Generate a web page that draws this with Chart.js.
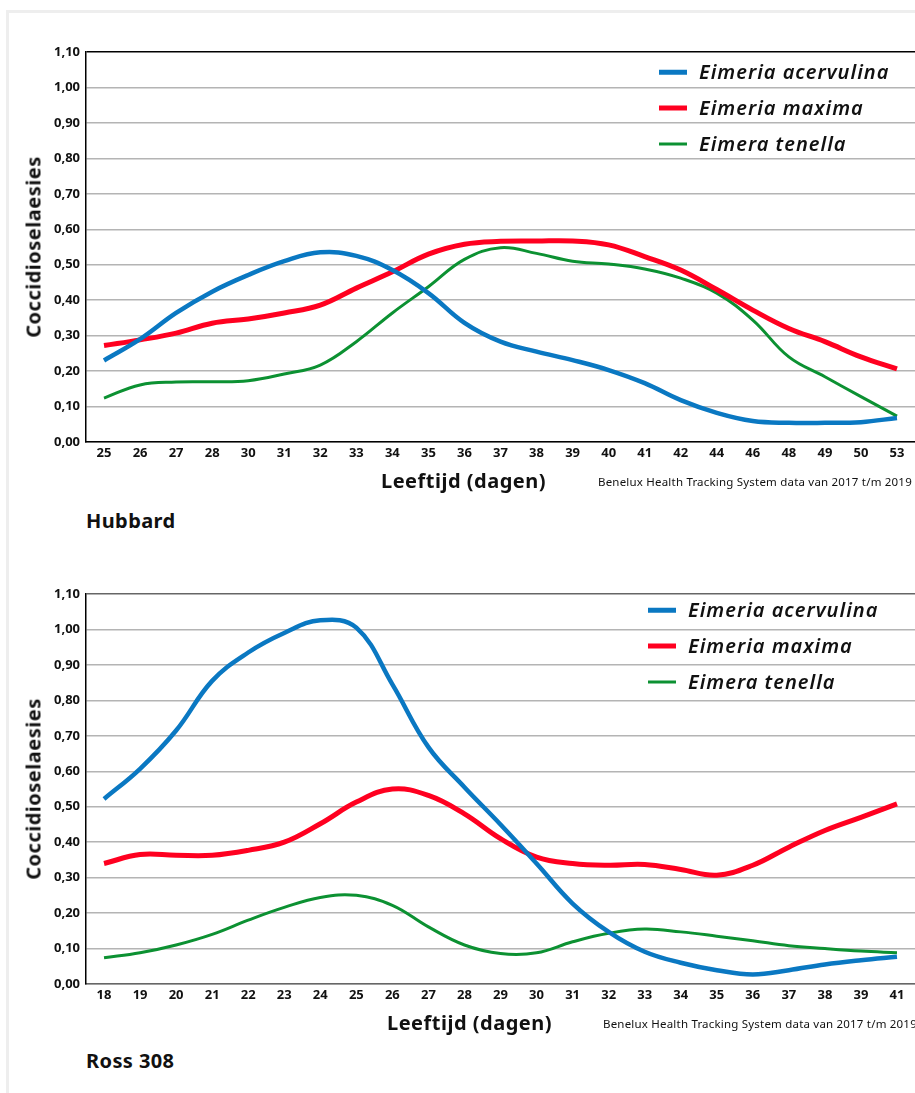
<!DOCTYPE html>
<html lang="nl">
<head>
  <meta charset="UTF-8" />
  <title>Coccidioselaesies Hubbard en Ross 308</title>
  <script src="https://cdn.jsdelivr.net/npm/chart.js"></script>
  <style>
    body {
      margin: 0;
      background: #fff;
      font-family: 'Noto Sans', 'Open Sans', sans-serif;
      color: #111;
    }
    .page {
      position: relative;
      width: 915px;
      height: 1093px;
      overflow: hidden;
    }
    .frame {
      position: absolute;
      left: 6px;
      top: 10px;
      right: -10px;
      bottom: -10px;
      border-left: 3px solid #eeeeee;
      border-top: 3px solid #eeeeee;
    }
    canvas { position: absolute; left: 0; }
    .ytitle {
      position: absolute;
      font-weight: 700;
      font-size: 20px;
      letter-spacing: 0.5px;
      transform: translate(-50%, -50%) rotate(-90deg);
      white-space: nowrap;
    }
    .xtitle {
      position: absolute;
      font-weight: 700;
      font-size: 20px;
      letter-spacing: 0.5px;
      white-space: nowrap;
      transform: translateY(-50%);
    }
    .source {
      position: absolute;
      font-size: 11.5px;
      letter-spacing: 0.2px;
      white-space: nowrap;
      transform: translateY(-50%);
    }
    .breed {
      position: absolute;
      left: 86px;
      font-weight: 700;
      font-size: 20px;
      letter-spacing: 0.4px;
      transform: translateY(-50%);
    }
    .legend {
      position: absolute;
    }
    .legend div {
      position: relative;
      height: 36px;
      line-height: 36px;
      font-style: italic;
      font-weight: 600;
      font-size: 20px;
      letter-spacing: 1px;
      white-space: nowrap;
      padding-left: 40px;
    }
    .legend span {
      position: absolute;
      left: 0;
      top: 50%;
      width: 28px;
      transform: translateY(-50%);
    }
  </style>
</head>
<body>
<div class="page">
  <div class="frame"></div>

  <canvas id="hubbardChart" width="915" height="470" style="top:30px"></canvas>
  <div class="ytitle" style="left:33px; top:247px">Coccidioselaesies</div>
  <div class="xtitle" style="left:381px; top:480px">Leeftijd (dagen)</div>
  <div class="source" style="left:598px; top:481px">Benelux Health Tracking System data van 2017 t/m 2019</div>
  <div class="breed" style="top:520px">Hubbard</div>
  <div class="legend" id="hubbardLegend" style="left:659px; top:54px"></div>

  <canvas id="rossChart" width="915" height="470" style="top:572px"></canvas>
  <div class="ytitle" style="left:33px; top:789px">Coccidioselaesies</div>
  <div class="xtitle" style="left:387px; top:1022px">Leeftijd (dagen)</div>
  <div class="source" style="left:603px; top:1023px">Benelux Health Tracking System data van 2017 t/m 2019</div>
  <div class="breed" style="top:1060px">Ross 308</div>
  <div class="legend" id="rossLegend" style="left:648px; top:592px"></div>
</div>

<script>
  const seriesNames = ['Eimeria acervulina', 'Eimeria maxima', 'Eimera tenella'];
  const seriesColors = ['#0a78c2', '#ff0020', '#0c9132'];
  const seriesWidths = [4.5, 5, 3];

  // Hubbard
  const hubbardDays = ['25','26','27','28','30','31','32','33','34','35','36','37','38','39','40','41','42','44','46','48','49','50','53'];
  const hubbardAcervulina = [0.23,0.29,0.364,0.424,0.471,0.51,0.535,0.525,0.485,0.42,0.336,0.283,0.255,0.231,0.203,0.166,0.118,0.082,0.059,0.054,0.054,0.056,0.068];
  const hubbardMaxima = [0.272,0.288,0.307,0.335,0.347,0.364,0.386,0.434,0.48,0.53,0.558,0.566,0.567,0.567,0.556,0.523,0.485,0.43,0.372,0.32,0.283,0.24,0.206];
  const hubbardTenella = [0.124,0.161,0.169,0.17,0.173,0.192,0.217,0.283,0.364,0.438,0.515,0.548,0.532,0.51,0.502,0.488,0.462,0.42,0.344,0.24,0.184,0.128,0.073];

  // Ross 308
  const rossDays = ['18','19','20','21','22','23','24','25','26','27','28','29','30','31','32','33','34','35','36','37','38','39','41'];
  const rossAcervulina = [0.522,0.607,0.715,0.855,0.935,0.99,1.026,1.005,0.845,0.668,0.555,0.45,0.34,0.227,0.147,0.091,0.06,0.039,0.027,0.039,0.055,0.067,0.077];
  const rossMaxima = [0.34,0.365,0.363,0.363,0.377,0.40,0.452,0.513,0.55,0.532,0.48,0.41,0.358,0.34,0.335,0.337,0.323,0.307,0.335,0.386,0.433,0.47,0.508];
  const rossTenella = [0.074,0.088,0.11,0.14,0.18,0.216,0.244,0.25,0.222,0.161,0.11,0.086,0.088,0.119,0.143,0.155,0.147,0.135,0.122,0.108,0.10,0.093,0.088];

  const yMax = 1.1;
  const yStep = 0.1;

  function buildLegend(id) {
    const box = document.getElementById(id);
    seriesNames.forEach((name, i) => {
      const row = document.createElement('div');
      row.innerHTML = `<span style="height:${seriesWidths[i]}px;background:${seriesColors[i]}"></span>${name}`;
      box.appendChild(row);
    });
  }

  function makeChart(canvasId, days, values, frameColor) {
    return new Chart(document.getElementById(canvasId), {
      type: 'line',
      data: {
        labels: days,
        datasets: values.map((v, i) => ({
          label: seriesNames[i],
          data: v,
          borderColor: seriesColors[i],
          borderWidth: seriesWidths[i],
          pointRadius: 0,
          fill: false,
          tension: 0.4
        }))
      },
      options: {
        responsive: false,
        animation: false,
        layout: { padding: { top: 22, left: 0, right: 0, bottom: 0 } },
        plugins: { legend: { display: false }, tooltip: { enabled: false } },
        scales: {
          x: {
            offset: true,
            grid: { display: false, drawTicks: false },
            border: { color: frameColor, width: 1.5 },
            ticks: {
              autoSkip: false, maxRotation: 0, padding: 3, color: '#111',
              font: { family: 'Noto Sans', weight: 'bold', size: 13 }
            },
            afterFit: s => { s.height = 58; }
          },
          y: {
            min: 0, max: yMax,
            grid: {
              drawTicks: false,
              lineWidth: 1.5,
              color: c => (Math.abs(c.tick.value - yMax) < 1e-6 ? frameColor : '#b4b4b4')
            },
            border: { color: '#000', width: 1.5 },
            ticks: {
              stepSize: yStep, padding: 6, color: '#111',
              font: { family: 'Noto Sans', weight: 'bold', size: 13 },
              callback: v => v.toFixed(2).replace('.', ',')
            },
            afterFit: s => { s.width = 86; }
          }
        }
      }
    });
  }

  buildLegend('hubbardLegend');
  buildLegend('rossLegend');
  makeChart('hubbardChart', hubbardDays, [hubbardAcervulina, hubbardMaxima, hubbardTenella], '#000');
  makeChart('rossChart', rossDays, [rossAcervulina, rossMaxima, rossTenella], '#666');
</script>
</body>
</html>
